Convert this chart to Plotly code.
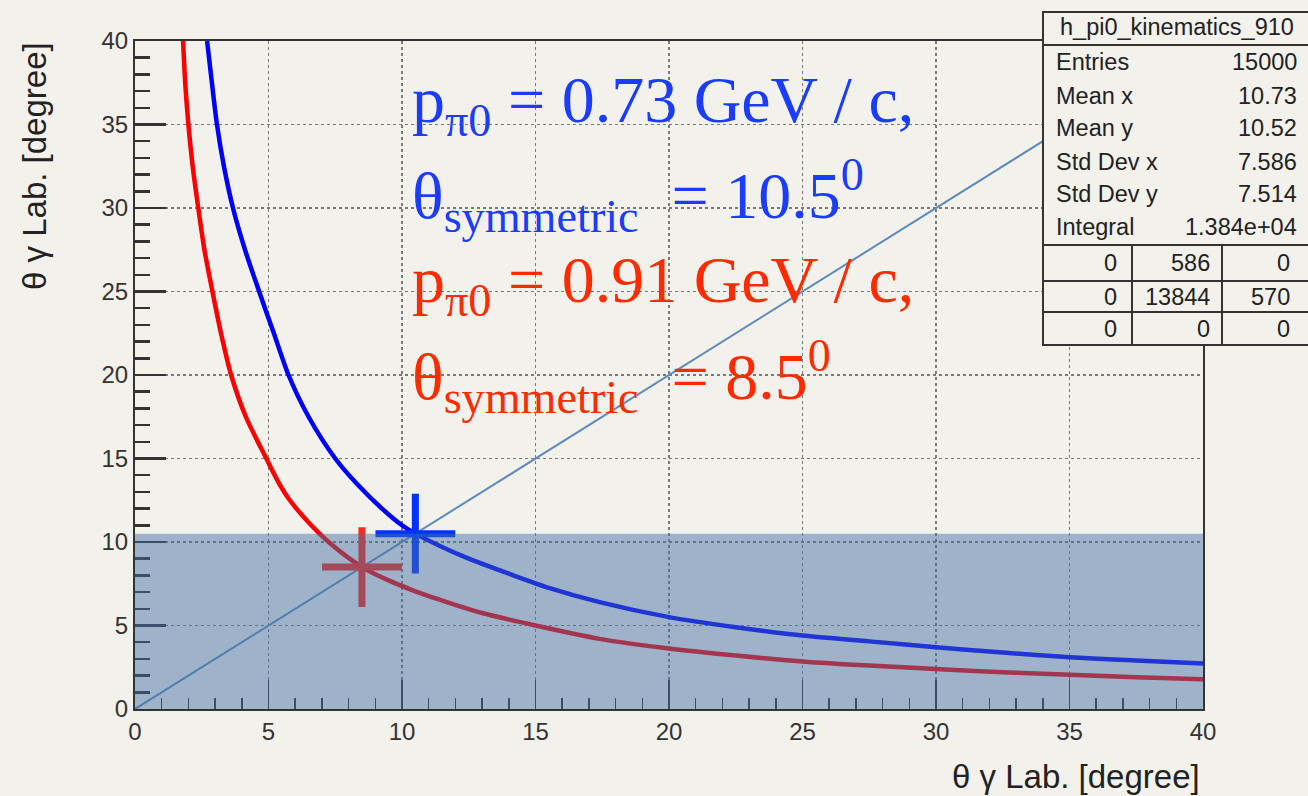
import plotly.graph_objects as go

# ---------------- data ----------------
blue_x = [2.7, 2.88, 3.07, 3.33, 3.67, 4.12, 4.65, 5.2, 5.75, 6.5, 7.5, 8.3, 9.25, 10.0, 10.5,
          11.5, 12.5, 14.0, 15.5, 17.4, 20.0, 22.5, 25.0, 27.5, 30.0, 32.5, 35.0, 37.5, 40.0]
blue_y = [40.0, 37.5, 35.0, 32.5, 30.0, 27.5, 25.0, 22.5, 20.0, 17.5, 15.0, 13.5, 12.0, 11.0, 10.5,
          9.7, 9.0, 8.1, 7.25, 6.4, 5.5, 4.9, 4.4, 4.05, 3.7, 3.38, 3.1, 2.9, 2.72]

red_x = [1.8, 1.88, 2.0, 2.16, 2.37, 2.6, 2.9, 3.22, 3.6, 4.15, 4.92, 5.4, 5.8, 6.6, 7.25, 8.5,
         9.5, 10.5, 11.5, 13.0, 15.0, 17.4, 20.0, 22.5, 25.0, 27.5, 30.0, 32.5, 35.0, 37.5, 40.0]
red_y = [40.0, 37.5, 35.0, 32.5, 30.0, 27.5, 25.0, 22.5, 20.0, 17.5, 15.0, 13.5, 12.5, 11.0, 10.0, 8.5,
         7.7, 7.05, 6.5, 5.75, 5.0, 4.2, 3.62, 3.2, 2.85, 2.6, 2.4, 2.2, 2.05, 1.9, 1.78]

diag_x = [0, 40]
diag_y = [0, 40]

theta_sym = [10.5, 8.5]          # blue, red symmetric angles
p_pi0 = ["0.73", "0.91"]

stat_title = "h_pi0_kinematics_910"
stat_names = ["Entries", "Mean x", "Mean y", "Std Dev x", "Std Dev y", "Integral"]
stat_values = ["15000", "10.73", "10.52", "7.586", "7.514", "1.384e+04"]
stat_table = [["0", "586", "0"],
              ["0", "13844", "570"],
              ["0", "0", "0"]]

x_ticks = [0, 5, 10, 15, 20, 25, 30, 35, 40]
y_ticks = [0, 5, 10, 15, 20, 25, 30, 35, 40]
axis_title = "θ γ Lab. [degree]"

# ---------------- style ----------------
BG = "#f3f1ec"
AX = "#333333"
BLUE_TXT = "#1a3cff"
RED_TXT = "#ff2a00"

L, R, T, B = 135, 105, 41, 87
W, H = 1308, 796
PW, PH = W - L - R, H - T - B


def px_x(px):
    return (px - L) / PW


def px_y(py):
    return (H - B - py) / PH


fig = go.Figure()

fig.add_trace(go.Scatter(x=diag_x, y=diag_y, mode="lines",
                         line=dict(color="#5f8abb", width=2), hoverinfo="skip"))
fig.add_trace(go.Scatter(x=red_x, y=red_y, mode="lines",
                         line=dict(color="#ff0000", width=4.5, shape="spline", smoothing=0.8)))
fig.add_trace(go.Scatter(x=blue_x, y=blue_y, mode="lines",
                         line=dict(color="#0000ff", width=4.5, shape="spline", smoothing=0.8)))
# crosses at the symmetric angles
fig.add_trace(go.Scatter(x=[theta_sym[1]], y=[theta_sym[1]], mode="markers",
                         marker=dict(symbol="cross-thin", size=57,
                                     line=dict(color="#ff2a1a", width=7))))
fig.add_trace(go.Scatter(x=[theta_sym[0]], y=[theta_sym[0]], mode="markers",
                         marker=dict(symbol="cross-thin", size=57,
                                     line=dict(color="#0033ff", width=7))))

shapes = []
# translucent band below the blue symmetric angle
shapes.append(dict(type="rect", xref="x", yref="y", x0=-0.08, x1=40.05, y0=0, y1=theta_sym[0],
                   fillcolor="rgba(64,110,165,0.48)", line=dict(width=0), layer="above"))

# stats box
bx0, bx1 = px_x(1043), px_x(1320)
by_top, by_t1, by_t2, by_r1, by_r2, by_bot = (px_y(12), px_y(45), px_y(245),
                                              px_y(281), px_y(312), px_y(345))
shapes.append(dict(type="rect", xref="paper", yref="paper", x0=bx0, x1=bx1, y0=by_bot, y1=by_top,
                   fillcolor=BG, line=dict(color=AX, width=2), layer="above"))
for yy in (by_t1, by_t2, by_r1, by_r2):
    shapes.append(dict(type="line", xref="paper", yref="paper", x0=bx0, x1=bx1, y0=yy, y1=yy,
                       line=dict(color=AX, width=2), layer="above"))
for xx in (px_x(1132), px_x(1222)):
    shapes.append(dict(type="line", xref="paper", yref="paper", x0=xx, x1=xx, y0=by_bot, y1=by_t2,
                       line=dict(color=AX, width=2), layer="above"))

ann = []
SF = dict(family="Liberation Sans, Arial, sans-serif", size=23.5, color="#222")
ann.append(dict(text=stat_title, xref="paper", yref="paper", x=px_x(1177), y=px_y(27),
                xanchor="center", yanchor="middle", showarrow=False, font=SF))
row_y = [62, 96, 128, 162, 194, 227]
for name, val, ry in zip(stat_names, stat_values, row_y):
    ann.append(dict(text=name, xref="paper", yref="paper", x=px_x(1054), y=px_y(ry),
                    xanchor="left", yanchor="middle", showarrow=False, font=SF))
    ann.append(dict(text=val, xref="paper", yref="paper", x=px_x(1299), y=px_y(ry),
                    xanchor="right", yanchor="middle", showarrow=False, font=SF))
col_right = [1119, 1212, 1292]
tab_y = [263, 297, 329]
for row, ty in zip(stat_table, tab_y):
    for cell, cx in zip(row, col_right):
        ann.append(dict(text=cell, xref="paper", yref="paper", x=px_x(cx), y=px_y(ty),
                        xanchor="right", yanchor="middle", showarrow=False, font=SF))

# big labels
TF = "Liberation Serif, Times New Roman, serif"
lines = [
    (f"p<sub>π0</sub> = {p_pi0[0]} GeV / c,", BLUE_TXT, 104),
    (f"θ<sub>symmetric</sub>  = {theta_sym[0]}<sup>0</sup>", BLUE_TXT, 196),
    (f"p<sub>π0</sub> = {p_pi0[1]} GeV / c,", RED_TXT, 284),
    (f"θ<sub>symmetric</sub>  = {theta_sym[1]}<sup>0</sup>", RED_TXT, 376),
]
for txt, col, cy in lines:
    ann.append(dict(text=txt, xref="paper", yref="paper", x=px_x(410), y=px_y(cy),
                    xanchor="left", yanchor="middle", showarrow=False,
                    font=dict(family=TF, size=66, color=col)))

# axis titles
AF = dict(family="Liberation Sans, Arial, sans-serif", size=33, color="#222")
ann.append(dict(text=axis_title, xref="paper", yref="paper", x=px_x(1202), y=px_y(776),
                xanchor="right", yanchor="middle", showarrow=False, font=AF))
ann.append(dict(text=axis_title, xref="paper", yref="paper", x=px_x(34), y=px_y(40),
                xanchor="center", yanchor="top", showarrow=False, textangle=-90, font=AF))

common = dict(showline=True, mirror=True, linecolor=AX, linewidth=2, zeroline=False,
              showgrid=True, gridcolor="#7a7a7a", griddash="dot", gridwidth=1.5,
              ticks="inside", tickcolor=AX,
              tickfont=dict(family="Liberation Sans, Arial, sans-serif", size=24, color="#333"))

fig.update_layout(
    width=W, height=H,
    margin=dict(l=L, r=R, t=T, b=B),
    paper_bgcolor=BG, plot_bgcolor=BG,
    showlegend=False, hovermode=False,
    shapes=shapes, annotations=ann,
    xaxis=dict(range=[0, 40], tickvals=x_ticks, ticklen=29, tickwidth=1.5,
               minor=dict(dtick=1, ticks="inside", ticklen=11, tickwidth=1.5, tickcolor=AX,
                          showgrid=False),
               **common),
    yaxis=dict(range=[0, 40], tickvals=y_ticks, ticklen=31, tickwidth=2.5,
               minor=dict(dtick=1, ticks="inside", ticklen=15, tickwidth=2.5, tickcolor=AX,
                          showgrid=False),
               **common),
)

fig.write_html("out.html",
               config={"displayModeBar": False, "staticPlot": True},
               post_script="document.body.style.margin='0';"
                           "document.body.style.overflow='hidden';"
                           f"document.body.style.background='{BG}';")
